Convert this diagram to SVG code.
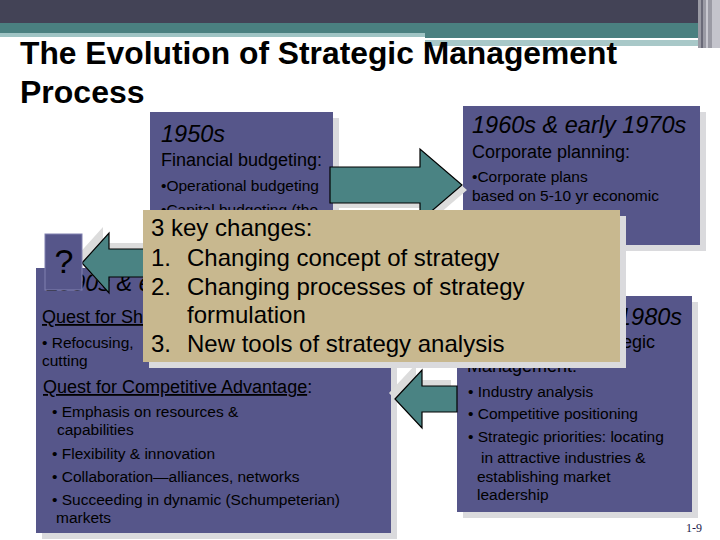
<svg xmlns="http://www.w3.org/2000/svg" width="720" height="540" viewBox="0 0 720 540">
<style>
text{font-family:"Liberation Sans",Arial,sans-serif;fill:#000}
.title{font-size:32px;font-weight:bold}
.hd{font-size:23.5px;font-style:italic}
.sub{font-size:18px}
.bul{font-size:15.5px}
.big{font-size:24px}
.box{fill:#56568A}
.shd{fill:#DADADD}
.tan{fill:#C8B88F}
.arr{fill:#4A8383;stroke:#000;stroke-width:1.2}
.ashd{fill:#DCDCDC}
.u{text-decoration:underline}
.pg{font-family:"Liberation Serif","Times New Roman",serif;font-size:12px;fill:#1a1a4a}
</style>
<rect width="720" height="540" fill="#fff"/>
<g id="banner">
<rect x="0" y="0" width="720" height="23" fill="#434356"/>
<rect x="0" y="23" width="700" height="10" fill="#4A8080"/>
<rect x="0" y="33" width="425" height="4" fill="#9FC4C4"/>
<rect x="425" y="33" width="275" height="5" fill="#4A8080"/>
<rect x="425" y="38" width="245" height="2" fill="#fff"/>
<rect x="425" y="40" width="280" height="6" fill="#A8C8C8"/>
<rect x="698" y="0" width="14" height="48" fill="#9A9AA4"/>
<rect x="701" y="0" width="2" height="48" fill="#6A6A78"/>
<rect x="706" y="0" width="2" height="48" fill="#C8C8D0"/>
<rect x="712" y="0" width="8" height="48" fill="#C4C4CC"/>
</g>
<g id="title">
<text class="title" x="20" y="64" textLength="597" lengthAdjust="spacingAndGlyphs">The Evolution of Strategic Management</text>
<text class="title" x="20" y="103">Process</text>
</g>
<g id="n1950s">
<rect class="shd" x="156" y="118" width="183" height="130"/>
<rect class="box" x="150" y="112" width="183" height="130"/>
<text class="hd" x="161" y="142">1950s</text>
<text class="sub" x="161" y="166">Financial budgeting:</text>
<text class="bul" x="161" y="191">•Operational budgeting</text>
<text class="bul" x="161" y="215">•Capital budgeting (the</text>
</g>
<g id="n1960s">
<rect class="shd" x="469" y="112" width="237" height="139"/>
<rect class="box" x="463" y="106" width="237" height="139"/>
<text class="hd" x="472" y="133">1960s &amp; early 1970s</text>
<text class="sub" x="472" y="158">Corporate planning:</text>
<text class="bul" x="472" y="182">•Corporate plans</text>
<text class="bul" x="472" y="201">based on 5-10 yr economic</text>
</g>
<g id="n1990s">
<rect class="shd" x="42" y="274" width="355" height="265"/>
<rect class="box" x="36" y="268" width="355" height="265"/>
<text class="hd" x="46" y="291">1990s &amp; early 2000s</text>
<text class="sub" x="42" y="323"><tspan class="u">Quest for Shareholder Value</tspan>:</text>
<text class="bul" x="42" y="348">• Refocusing,</text>
<text class="bul" x="42" y="366">cutting</text>
<text class="sub" x="43" y="393"><tspan class="u">Quest for Competitive Advantage</tspan>:</text>
<text class="bul" x="52" y="417">• Emphasis on resources &amp;</text>
<text class="bul" x="57" y="435">capabilities</text>
<text class="bul" x="52" y="459">• Flexibility &amp; innovation</text>
<text class="bul" x="52" y="482">• Collaboration—alliances, networks</text>
<text class="bul" x="52" y="505">• Succeeding in dynamic (Schumpeterian)</text>
<text class="bul" x="56" y="523">markets</text>
</g>
<g id="n1980s">
<rect class="shd" x="463" y="302" width="235" height="216"/>
<rect class="box" x="457" y="296" width="235" height="216"/>
<text class="hd" x="618" y="325">1980s</text>
<text class="sub" x="467" y="348">Emergence of Strategic</text>
<text class="sub" x="467" y="372">Management:</text>
<text class="bul" x="468" y="397">• Industry analysis</text>
<text class="bul" x="468" y="419">• Competitive positioning</text>
<text class="bul" x="468" y="442">• Strategic priorities: locating</text>
<text class="bul" x="481" y="463">in attractive industries &amp;</text>
<text class="bul" x="477" y="482">establishing market</text>
<text class="bul" x="477" y="500">leadership</text>
</g>
<g id="connectors">
<polygon class="ashd" points="335,172 425,172 425,154 467,190 425,226 425,208 335,208"/>
<polygon class="arr" points="330,167 420,167 420,149 462,185 420,221 420,203 330,203"/>
<polygon class="ashd" points="76,257 103,227 103,243 144,243 144,271 103,271 103,287"/>
<polygon class="arr" points="82,263 109,233 109,249 150,249 150,277 109,277 109,293"/>
<polygon class="ashd" points="389,393 416,364 416,380 451,380 451,406 416,406 416,422"/>
<polygon class="arr" points="395,399 422,370 422,386 457,386 457,412 422,412 422,428"/>
</g>
<g id="nq">
<rect class="box" x="45" y="234" width="37" height="56" stroke="#8080B0" stroke-width="1"/>
<text x="64" y="273" text-anchor="middle" font-size="34">?</text>
</g>
<g id="changes">
<rect class="shd" x="149" y="216" width="477" height="152"/>
<rect class="tan" x="143" y="210" width="477" height="152"/>
<text class="big" x="151" y="236">3 key changes:</text>
<text class="big" x="151" y="266">1.</text>
<text class="big" x="187" y="266">Changing concept of strategy</text>
<text class="big" x="151" y="295">2.</text>
<text class="big" x="187" y="295">Changing processes of strategy</text>
<text class="big" x="187" y="323">formulation</text>
<text class="big" x="151" y="352">3.</text>
<text class="big" x="187" y="352">New tools of strategy analysis</text>
</g>
<text class="pg" x="686" y="532">1-9</text>
</svg>
